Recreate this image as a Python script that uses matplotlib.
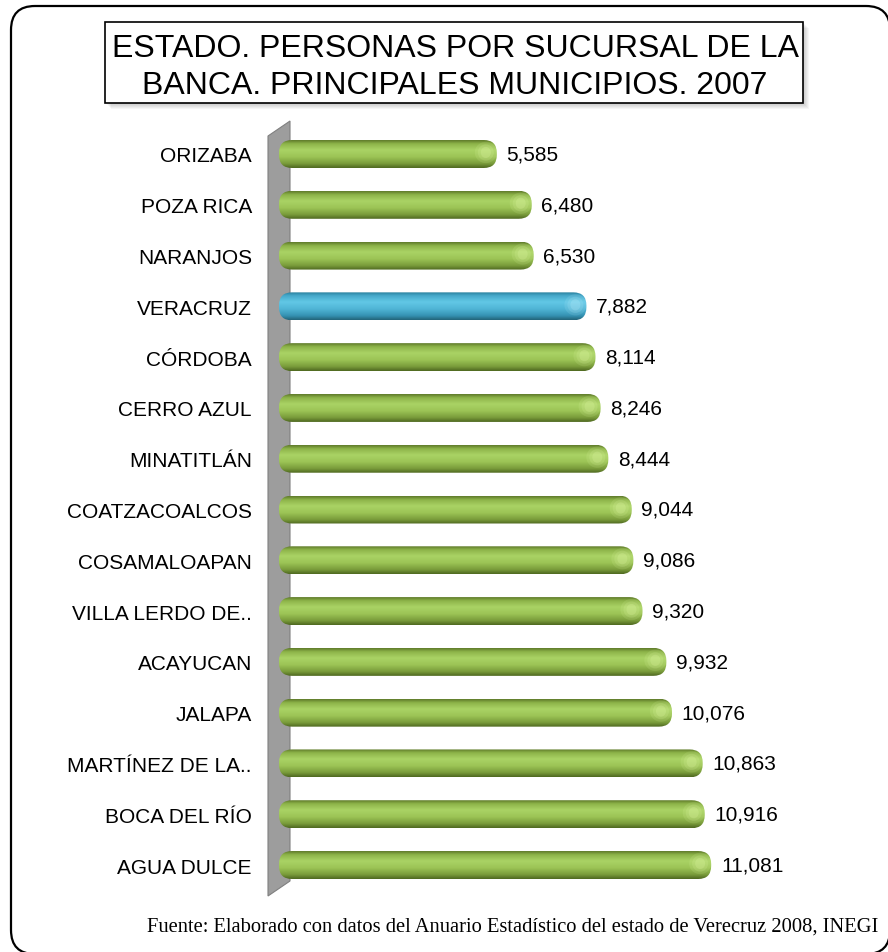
import numpy as np
import matplotlib.pyplot as plt
from matplotlib.patches import FancyBboxPatch, Rectangle, Polygon, Ellipse
from matplotlib.colors import LinearSegmentedColormap

# datos
municipios = ['ORIZABA', 'POZA RICA', 'NARANJOS', 'VERACRUZ', 'CÓRDOBA', 'CERRO AZUL',
              'MINATITLÁN', 'COATZACOALCOS', 'COSAMALOAPAN', 'VILLA LERDO DE..',
              'ACAYUCAN', 'JALAPA', 'MARTÍNEZ DE LA..', 'BOCA DEL RÍO', 'AGUA DULCE']
personas = [5585, 6480, 6530, 7882, 8114, 8246, 8444, 9044, 9086, 9320,
            9932, 10076, 10863, 10916, 11081]
destacado = 'VERACRUZ'

titulo = ['ESTADO. PERSONAS POR SUCURSAL DE LA', 'BANCA. PRINCIPALES MUNICIPIOS. 2007']
fuente = 'Fuente: Elaborado con datos del Anuario Estadístico del estado de Verecruz 2008, INEGI'

plt.rcParams['font.family'] = ['Liberation Sans', 'DejaVu Sans']

W, H = 888, 953
fig = plt.figure(figsize=(W / 100, H / 100), dpi=100)
inch = fig.dpi_scale_trans


def P(x, y):
    # pixel desde arriba-izquierda -> pulgadas
    return x / 100, (H - y) / 100


# marco exterior redondeado
marco = FancyBboxPatch(P(11, 955), 8.79, 9.48, boxstyle='round,pad=0,rounding_size=0.24',
                       transform=inch, facecolor='white', edgecolor='black', linewidth=1.6, zorder=-5)
fig.patches.append(marco)

# caja del titulo con sombra
for k in range(6, 0, -1):
    sombra = Rectangle(P(105 + k, 104 + k), 6.98, 0.81, transform=inch,
                       facecolor='#000000', edgecolor='none', alpha=0.035, zorder=-4)
    fig.patches.append(sombra)
caja = Rectangle(P(105, 104), 6.98, 0.81, transform=inch, facecolor='white',
                 edgecolor='black', linewidth=1.2, zorder=-3)
fig.patches.append(caja)
fig.text(455 / W, (H - 57) / H, titulo[0], ha='center', va='baseline', fontsize=23)
fig.text(455 / W, (H - 94) / H, titulo[1], ha='center', va='baseline', fontsize=23)

# pared gris del eje
pared = Polygon([P(268, 137), P(290, 122), P(290, 882), P(268, 897)], closed=True,
                transform=inch, facecolor='#9d9d9d', edgecolor='#808080', linewidth=0.8, zorder=-2)
fig.patches.append(pared)

ax = fig.add_axes([279 / W, (H - 891.4) / H, 585 / W, 761.8 / H])
ax.patch.set_visible(False)
ax.set_xlim(0, 15000)
ax.set_ylim(len(municipios) - 0.5, -0.5)

verde = LinearSegmentedColormap.from_list('verde', [
    (0, '#5e7a2a'), (0.12, '#8cb248'), (0.35, '#aad365'), (0.6, '#9cc456'),
    (0.85, '#789a3a'), (1, '#4e6820')])
azul = LinearSegmentedColormap.from_list('azul', [
    (0, '#2a7f9c'), (0.12, '#45a8ca'), (0.35, '#62c8e6'), (0.6, '#50b5d6'),
    (0.85, '#3592b2'), (1, '#226478')])

kx = 585 / 15000          # px por unidad
ky = 761.8 / len(municipios)
asp = (1 / ky) / (1 / kx)
h = 28 / ky
grad = np.linspace(0, 1, 100).reshape(-1, 1)

for i, (m, v) in enumerate(zip(municipios, personas)):
    cmap = azul if m == destacado else verde
    barra = FancyBboxPatch((0, i - h / 2), v, h, boxstyle=f'round,pad=0,rounding_size={13 / kx}',
                           mutation_aspect=asp, facecolor='none', edgecolor='none')
    ax.add_patch(barra)
    im = ax.imshow(grad, extent=[0, v, i + h / 2, i - h / 2], cmap=cmap, aspect='auto',
                   interpolation='bicubic', zorder=2)
    im.set_clip_path(barra)
    for a, (wd, ht) in zip([0.12, 0.15, 0.2], [(22, 0.42), (16, 0.32), (10, 0.22)]):
        brillo = Ellipse((v - 11 / kx, i - 0.03), wd / kx, ht,
                         facecolor='#eaffb0' if m != destacado else '#c8f4ff',
                         edgecolor='none', alpha=a, zorder=3)
        ax.add_patch(brillo)
        brillo.set_clip_path(barra)
    ax.annotate(f'{v:,}', (v, i), xytext=(7, 0), textcoords='offset points',
                ha='left', va='center', fontsize=15)

ax.set_xlim(0, 15000)
ax.set_ylim(len(municipios) - 0.5, -0.5)
ax.set_yticks(range(len(municipios)), municipios, fontsize=15)
ax.tick_params(axis='y', length=0, pad=19.5)
ax.set_xticks([])
for s in ax.spines.values():
    s.set_visible(False)

fig.text(513 / W, (H - 932) / H, fuente, ha='center', va='baseline', fontsize=14.8,
         family=['Liberation Serif', 'DejaVu Serif'])

fig.savefig('out.png', dpi=100)
